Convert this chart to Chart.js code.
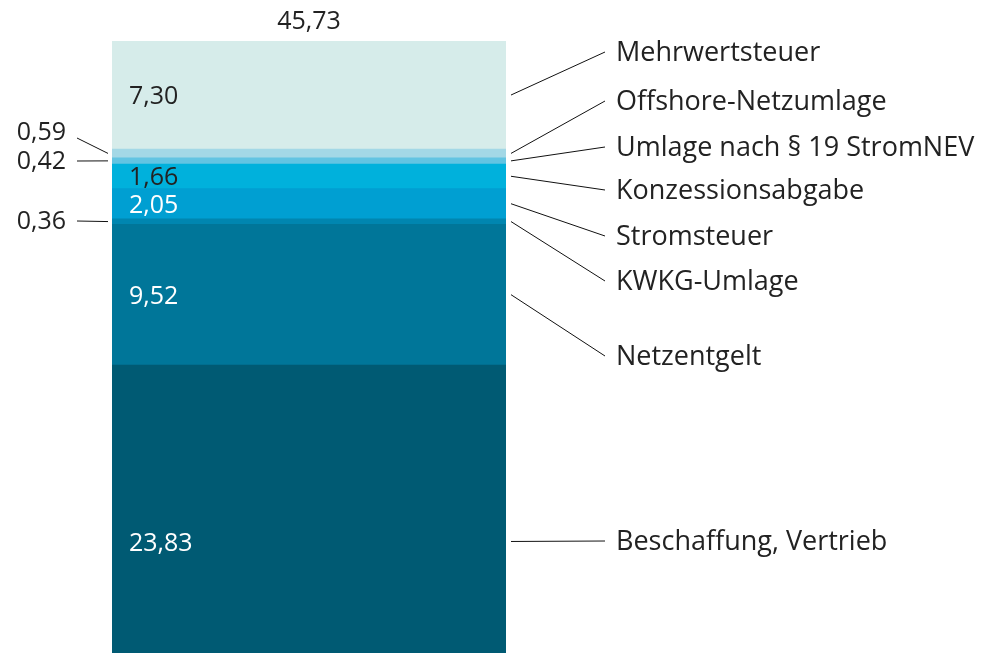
<!DOCTYPE html>
<html>
<head>
<meta charset="utf-8">
<script src="https://cdn.jsdelivr.net/npm/chart.js@4"></script>
<style>
  html, body { margin: 0; padding: 0; background: #fff; }
  #wrap { width: 985px; height: 654px; }
</style>
</head>
<body>
<div id="wrap"><canvas id="stromChart"></canvas></div>
<script>
// Daten (von unten nach oben)
const kategorien = ['Beschaffung, Vertrieb', 'Netzentgelt', 'KWKG-Umlage', 'Stromsteuer',
    'Konzessionsabgabe', 'Umlage nach § 19 StromNEV', 'Offshore-Netzumlage', 'Mehrwertsteuer'];
const werte = [23.83, 9.52, 0.36, 2.05, 1.66, 0.42, 0.59, 7.30];
const gesamt = 45.73;
const farben = ['#005a73', '#007699', '#0086b0', '#009fd2', '#00b1dc', '#62c4e2', '#a3d8e6', '#d6ecea'];

// Beschriftung: innen oder links neben dem Balken
const innen = [true, true, false, true, true, false, false, true];
const textFarbe = ['#fff', '#fff', '#222', '#fff', '#222', '#222', '#222', '#222'];
const linksY = [null, null, 221, null, null, 161, 132, null];
const rechtsY = [541, 356, 281, 236, 190, 147, 101, 52];

const zahl = v => v.toFixed(2).replace('.', ',');
const zahlFont = '25px "Open Sans", sans-serif';
const textFont = '27px "Open Sans", sans-serif';

const beschriftung = {
    id: 'beschriftung',
    afterDatasetsDraw(chart) {
        const ctx = chart.ctx;
        const area = chart.chartArea;
        ctx.save();
        ctx.textBaseline = 'middle';
        ctx.lineWidth = 1;
        ctx.strokeStyle = '#111';

        werte.forEach((v, i) => {
            const bar = chart.getDatasetMeta(i).data[0];
            const mitte = (bar.y + bar.base) / 2;

            // Wert
            ctx.font = zahlFont;
            if (innen[i]) {
                ctx.fillStyle = textFarbe[i];
                ctx.textAlign = 'left';
                ctx.fillText(zahl(v), area.left + 17, mitte + 2);
            } else {
                ctx.fillStyle = '#222';
                ctx.textAlign = 'right';
                ctx.fillText(zahl(v), 66, linksY[i] + 1);
                ctx.beginPath();
                ctx.moveTo(77, linksY[i] + (linksY[i] < mitte - 5 ? 6 : 0));
                ctx.lineTo(area.left - 4, mitte);
                ctx.stroke();
            }

            // Kategorie rechts
            ctx.beginPath();
            ctx.moveTo(area.right + 5, mitte);
            ctx.lineTo(area.right + 99, rechtsY[i]);
            ctx.stroke();
            ctx.font = textFont;
            ctx.fillStyle = '#222';
            ctx.textAlign = 'left';
            ctx.fillText(kategorien[i], area.right + 110, rechtsY[i] + 1);
        });

        // Summe oben
        ctx.font = zahlFont;
        ctx.textAlign = 'center';
        ctx.fillStyle = '#222';
        ctx.fillText(zahl(gesamt), (area.left + area.right) / 2, 22);
        ctx.restore();
    }
};

new Chart(document.getElementById('stromChart'), {
    type: 'bar',
    data: {
        labels: [''],
        datasets: werte.map((v, i) => ({
            label: kategorien[i],
            data: [v],
            backgroundColor: farben[i],
            borderWidth: 0,
            barPercentage: 1,
            categoryPercentage: 1
        }))
    },
    options: {
        responsive: true,
        maintainAspectRatio: false,
        animation: false,
        layout: { padding: { left: 112, right: 479, top: 41, bottom: 1 } },
        scales: {
            x: { stacked: true, display: false },
            y: { stacked: true, display: false, min: 4.38, max: gesamt }
        },
        plugins: { legend: { display: false }, tooltip: { enabled: false } }
    },
    plugins: [beschriftung]
});
</script>
</body>
</html>
